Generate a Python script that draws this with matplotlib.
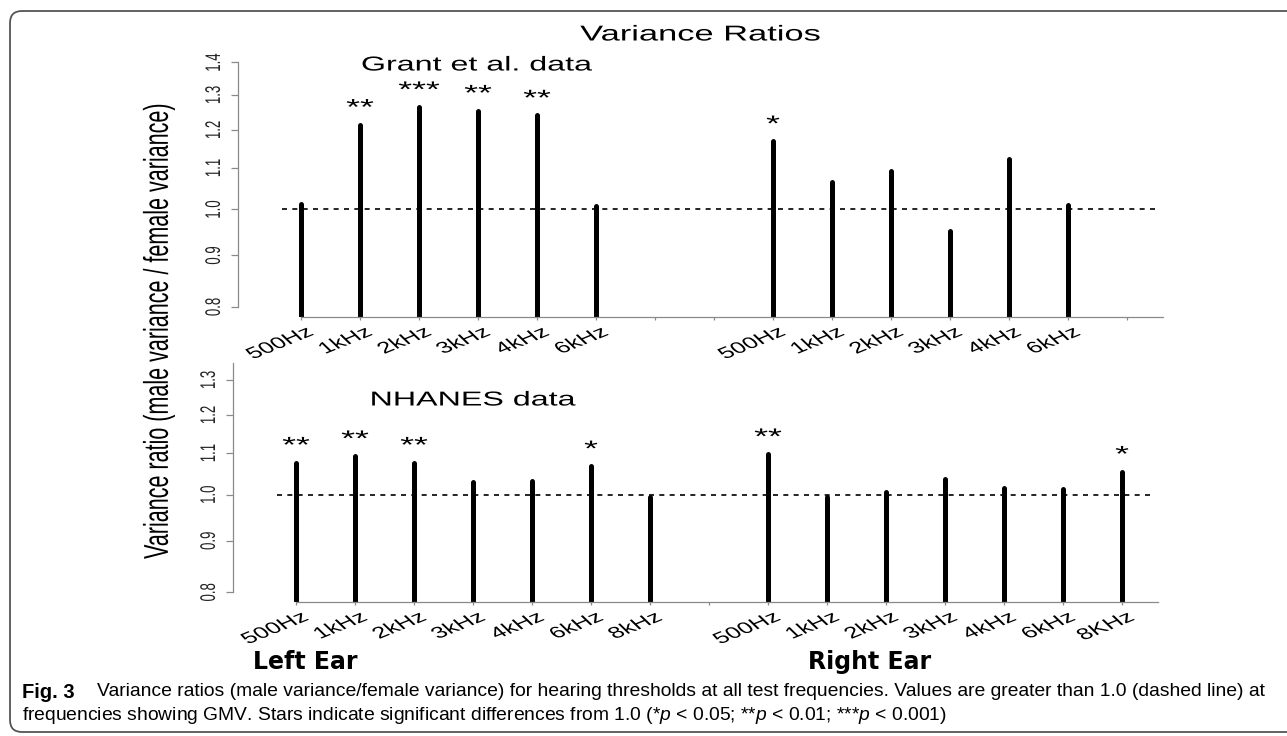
import matplotlib
matplotlib.use('Agg')
import matplotlib.pyplot as plt
import numpy as np
from matplotlib.patches import FancyBboxPatch
from matplotlib.patheffects import AbstractPathEffect
from matplotlib.ticker import NullLocator
from matplotlib.transforms import Affine2D

# Grant et al. data (top panel)
grant_left_labels = ['500Hz', '1kHz', '2kHz', '3kHz', '4kHz', '6kHz']
grant_right_labels = ['500Hz', '1kHz', '2kHz', '3kHz', '4kHz', '6kHz']
grant_left = [1.012, 1.214, 1.264, 1.254, 1.240, 1.009]
grant_right = [1.169, 1.064, 1.092, 0.951, 1.123, 1.010]
grant_left_stars = ['', '**', '***', '**', '**', '']
grant_right_stars = ['*', '', '', '', '', '']

# NHANES data (bottom panel)
nhanes_left_labels = ['500Hz', '1kHz', '2kHz', '3kHz', '4kHz', '6kHz', '8kHz']
nhanes_right_labels = ['500Hz', '1kHz', '2kHz', '3kHz', '4kHz', '6kHz', '8KHz']
nhanes_left = [1.076, 1.092, 1.076, 1.030, 1.031, 1.067, 0.995]
nhanes_right = [1.097, 0.995, 1.007, 1.037, 1.016, 1.012, 1.054]
nhanes_left_stars = ['**', '**', '**', '', '', '*', '']
nhanes_right_stars = ['**', '', '', '', '', '', '*']

W, H = 1287, 736
STRETCH = 1.6  # the original R figure was stretched sideways

plt.rcParams['font.family'] = 'Liberation Sans'
plt.rcParams['mathtext.fontset'] = 'custom'
plt.rcParams['mathtext.rm'] = 'Liberation Sans'
plt.rcParams['mathtext.it'] = 'Liberation Sans:italic'


class Stretch(AbstractPathEffect):
    """Stretch the drawn text horizontally about a pivot in its own box."""

    def __init__(self, sx=STRETCH, fx=0.5):
        super().__init__()
        self.sx = sx
        self.fx = fx

    def draw_path(self, renderer, gc, tpath, affine, rgbFace=None):
        ext = tpath.get_extents(affine)
        px = ext.x0 + self.fx * ext.width
        aff = affine + Affine2D().translate(-px, 0).scale(self.sx, 1).translate(px, 0)
        renderer.draw_path(gc, tpath, aff, rgbFace)


fig = plt.figure(figsize=(W / 100, H / 100), dpi=100)


def px_axes(x0, y0, x1, y1):
    return fig.add_axes([x0 / W, 1 - y1 / H, (x1 - x0) / W, (y1 - y0) / H])


def panel(ax, left, right, left_labels, right_labels, left_stars, right_stars,
          ylim, ytop, yticks):
    ax.set_yscale('log')
    ax.set_xlim(0.678, 15.525)
    ax.set_ylim(*ylim)

    pos = np.concatenate([np.arange(1, len(left) + 1), np.arange(9, 9 + len(right))])
    vals = np.array(left + right)
    labels = left_labels + right_labels
    stars = left_stars + right_stars

    ax.vlines(pos, ylim[0], vals, color='black', lw=3.6, capstyle='round')
    ax.axhline(1.0, color='black', lw=1.2, ls=(0, (3, 3.2)))

    for s in ['top', 'right']:
        ax.spines[s].set_visible(False)
    ax.spines['left'].set_position(('outward', 32))
    ax.spines['left'].set_bounds(0.8, ytop)
    ax.spines['bottom'].set_bounds(1, 15.61)
    for s in ['left', 'bottom']:
        ax.spines[s].set_color('#8a8a8a')
        ax.spines[s].set_linewidth(0.9)

    ax.set_yticks(yticks)
    ax.set_yticklabels(['%.1f' % t for t in yticks])
    ax.yaxis.set_minor_locator(NullLocator())
    ax.tick_params(axis='y', length=5, width=0.9, color='#8a8a8a', pad=5.5,
                   labelsize=9.5, labelrotation=90, labelcolor='#222222')
    for t in ax.get_yticklabels():
        t.set_va('center')
        t.set_path_effects([Stretch(STRETCH, 1.0)])

    ax.set_xticks(np.arange(1, 16))
    ax.set_xticklabels([])
    ax.xaxis.set_minor_locator(NullLocator())
    ax.tick_params(axis='x', length=2.5, width=0.9, color='#8a8a8a')

    for p, lab in zip(pos, labels):
        ax.annotate(lab, xy=(p, 0), xycoords=('data', 'axes fraction'),
                    xytext=(10.8, -5.5), textcoords='offset points',
                    rotation=33, ha='right', va='top', fontsize=11.5,
                    path_effects=[Stretch(STRETCH, 1.0)], annotation_clip=False)

    for p, v, s in zip(pos, vals, stars):
        if s:
            ax.annotate(s, xy=(p, v), xytext=(0, 7.5), textcoords='offset points',
                        ha='center', va='baseline', fontsize=16,
                        path_effects=[Stretch(STRETCH, 0.5)], annotation_clip=False)


ax1 = px_axes(282, 52.7, 1158, 316.7)
panel(ax1, grant_left, grant_right, grant_left_labels, grant_right_labels,
      grant_left_stars, grant_right_stars, (0.7823, 1.4317), 1.4,
      [0.8, 0.9, 1.0, 1.1, 1.2, 1.3, 1.4])

ax2 = px_axes(277, 371.5, 1153, 601.7)
panel(ax2, nhanes_left, nhanes_right, nhanes_left_labels, nhanes_right_labels,
      nhanes_left_stars, nhanes_right_stars, (0.783, 1.325), 1.35,
      [0.8, 0.9, 1.0, 1.1, 1.2, 1.3])


def ftext(x, y, s, **kw):
    return fig.text(x / W, 1 - y / H, s, **kw)


ftext(700, 35, 'Variance Ratios', ha='center', va='center', fontsize=15.5,
      path_effects=[Stretch()])
ftext(477, 65, 'Grant et al. data', ha='center', va='center', fontsize=14.5,
      path_effects=[Stretch()])
ftext(473, 400, 'NHANES data', ha='center', va='center', fontsize=14.5,
      path_effects=[Stretch()])
ftext(159, 332, 'Variance ratio (male variance / female variance)', ha='center',
      va='center', rotation=90, fontsize=15.5, path_effects=[Stretch()])

ftext(305, 662, 'Left Ear', ha='center', va='center', fontsize=17,
      fontweight='bold', family='DejaVu Sans')
ftext(870, 662, 'Right Ear', ha='center', va='center', fontsize=17,
      fontweight='bold', family='DejaVu Sans')

# caption
ftext(22, 692, 'Fig. 3', ha='left', va='center', fontsize=14.5, fontweight='bold')
ftext(97, 692, 'Variance ratios (male variance/female variance) for hearing thresholds at all '
      'test frequencies. Values are greater than 1.0 (dashed line) at',
      ha='left', va='center', fontsize=13.85)
ftext(22, 716, 'frequencies showing GMV. Stars indicate significant differences from 1.0 '
      '(*$p$ < 0.05; **$p$ < 0.01; ***$p$ < 0.001)',
      ha='left', va='center', fontsize=13.85)

# rounded panel frame
ax_frame = fig.add_axes([0, 0, 1, 1], zorder=-1)
ax_frame.set_xlim(0, W)
ax_frame.set_ylim(H, 0)
ax_frame.axis('off')
frame = FancyBboxPatch((10, 11), 1320, 721, boxstyle='round,pad=0,rounding_size=12',
                       fill=False, edgecolor='#555555', lw=1.3)
ax_frame.add_patch(frame)

fig.savefig('out.png', dpi=100)
